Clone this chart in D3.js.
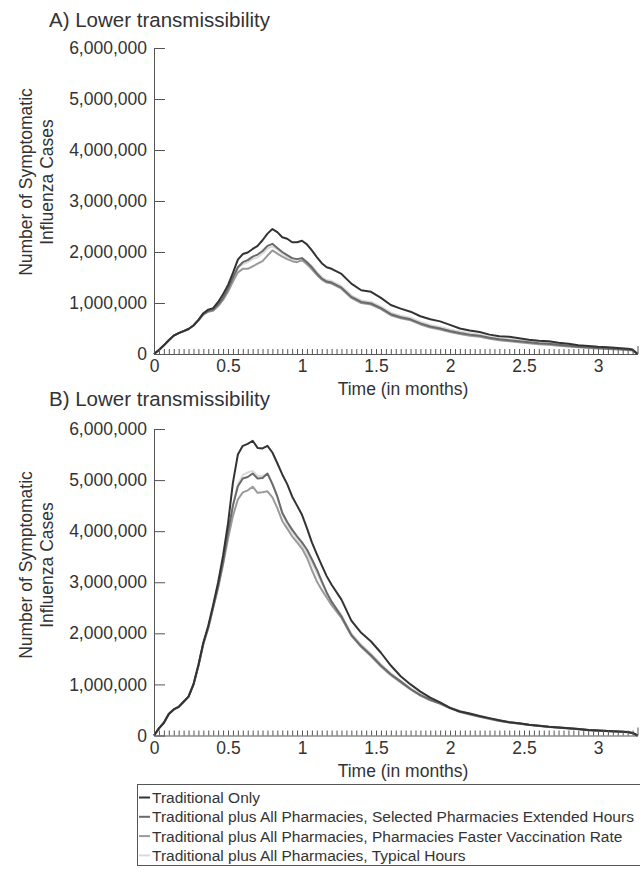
<!DOCTYPE html>
<meta charset="utf-8">
<style>

body {
  margin: 0;
  background: #fff;
}

svg {
  font-family: "Liberation Sans", Arial, sans-serif;
}

.axis path,
.axis line {
  stroke: #555;
  stroke-width: 1px;
}

.axis text {
  fill: #333;
  font-size: 17.5px;
}

.series {
  fill: none;
  stroke-width: 2px;
  stroke-linejoin: round;
}

.title, .label {
  fill: #333;
}

</style>
<svg width="640" height="871"></svg>
<script src="https://d3js.org/d3.v7.min.js"></script>
<script>

// time in days (axis is labelled in months, 30 days each)
var days = [0,1,2,3,4,5,6,7,8,9,10,11,12,13,14,15,16,17,18,19,20,21,22,23,24,25,26,27,28,29,30,31,32,33,34,35,36,
  38,40,42,44,46,48,50,52,54,56,58,60,62,64,66,68,70,72,74,76,78,80,82,84,86,88,90,92,94,96,97,98];

// symptomatic cases, millions - panel A
var aTraditional = [0,0.08,0.17,0.27,0.36,0.41,0.45,0.49,0.56,0.67,0.80,0.87,0.90,1.02,1.17,1.35,1.59,1.85,1.96,1.99,2.06,2.12,2.23,2.36,2.45,2.39,2.29,2.26,2.19,2.19,2.22,2.15,2.03,1.90,1.78,1.70,1.67,
  1.57,1.38,1.25,1.22,1.10,0.96,0.89,0.83,0.74,0.68,0.64,0.57,0.50,0.46,0.43,0.38,0.35,0.34,0.31,0.28,0.26,0.25,0.22,0.20,0.17,0.155,0.14,0.13,0.12,0.105,0.09,0];
var aSelected = [0,0.08,0.17,0.27,0.36,0.41,0.45,0.49,0.56,0.66,0.78,0.84,0.87,0.97,1.10,1.28,1.50,1.70,1.80,1.84,1.91,1.95,2.02,2.12,2.16,2.08,2.00,1.94,1.88,1.86,1.88,1.80,1.70,1.58,1.48,1.42,1.40,
  1.30,1.12,1.02,0.99,0.90,0.78,0.72,0.68,0.60,0.54,0.50,0.45,0.41,0.38,0.36,0.32,0.29,0.27,0.25,0.23,0.21,0.20,0.18,0.16,0.14,0.13,0.12,0.11,0.10,0.09,0.08,0];
var aFaster = [0,0.08,0.17,0.27,0.36,0.41,0.45,0.49,0.56,0.66,0.77,0.83,0.85,0.94,1.06,1.22,1.42,1.60,1.67,1.67,1.72,1.77,1.82,1.93,2.03,1.97,1.91,1.86,1.82,1.80,1.84,1.76,1.66,1.55,1.46,1.40,1.38,
  1.28,1.10,1.00,0.97,0.88,0.76,0.70,0.66,0.58,0.52,0.48,0.43,0.39,0.36,0.34,0.30,0.27,0.25,0.23,0.21,0.19,0.18,0.16,0.145,0.13,0.12,0.11,0.10,0.09,0.08,0.07,0];
var aTypical = [0,0.08,0.17,0.27,0.36,0.41,0.45,0.49,0.56,0.66,0.78,0.84,0.87,0.97,1.10,1.27,1.48,1.68,1.76,1.80,1.86,1.90,1.97,2.07,2.11,2.05,1.97,1.91,1.86,1.85,1.88,1.81,1.72,1.61,1.51,1.45,1.43,
  1.33,1.15,1.05,1.02,0.93,0.81,0.75,0.71,0.63,0.57,0.53,0.48,0.44,0.41,0.38,0.34,0.31,0.29,0.27,0.25,0.23,0.22,0.19,0.17,0.15,0.14,0.13,0.12,0.105,0.095,0.085,0];

// panel B
var bTraditional = [0,0.14,0.25,0.42,0.51,0.56,0.66,0.76,1.00,1.38,1.82,2.15,2.56,3.00,3.52,4.15,4.95,5.50,5.67,5.71,5.77,5.63,5.62,5.67,5.54,5.33,5.11,4.92,4.68,4.50,4.32,4.06,3.78,3.55,3.33,3.12,2.95,
  2.66,2.25,2.01,1.84,1.62,1.37,1.16,1.00,0.86,0.74,0.65,0.54,0.47,0.43,0.38,0.34,0.30,0.26,0.24,0.21,0.19,0.17,0.155,0.14,0.125,0.11,0.10,0.09,0.08,0.07,0.05,0];
var bSelected = [0,0.14,0.25,0.42,0.51,0.56,0.66,0.76,1.00,1.37,1.80,2.12,2.52,2.92,3.40,3.98,4.50,4.88,5.03,5.06,5.13,5.03,5.04,5.13,4.92,4.68,4.36,4.18,4.03,3.90,3.78,3.64,3.45,3.25,3.02,2.80,2.62,
  2.33,1.97,1.75,1.57,1.37,1.20,1.06,0.91,0.79,0.70,0.63,0.54,0.47,0.42,0.37,0.33,0.29,0.26,0.235,0.21,0.19,0.17,0.155,0.14,0.125,0.11,0.10,0.09,0.08,0.07,0.05,0];
var bFaster = [0,0.14,0.25,0.42,0.51,0.56,0.66,0.76,1.00,1.36,1.79,2.10,2.50,2.90,3.35,3.85,4.30,4.62,4.76,4.80,4.87,4.75,4.76,4.78,4.66,4.45,4.20,4.05,3.90,3.78,3.66,3.48,3.24,3.02,2.85,2.70,2.55,
  2.30,1.95,1.73,1.55,1.35,1.18,1.04,0.90,0.78,0.69,0.62,0.53,0.46,0.41,0.365,0.325,0.285,0.255,0.23,0.205,0.185,0.165,0.15,0.135,0.12,0.105,0.095,0.085,0.075,0.065,0.045,0];
var bTypical = [0,0.14,0.25,0.42,0.51,0.56,0.66,0.76,0.99,1.35,1.78,2.10,2.50,2.88,3.35,3.95,4.52,4.92,5.10,5.15,5.18,5.08,5.08,5.12,4.94,4.66,4.34,4.14,3.98,3.85,3.72,3.57,3.38,3.18,2.98,2.78,2.61,
  2.36,2.00,1.78,1.60,1.40,1.22,1.07,0.93,0.81,0.71,0.63,0.55,0.48,0.43,0.38,0.34,0.30,0.27,0.24,0.215,0.195,0.175,0.16,0.145,0.13,0.115,0.10,0.09,0.08,0.07,0.05,0];

var seriesNames = [
  "Traditional Only",
  "Traditional plus All Pharmacies, Selected Pharmacies Extended Hours",
  "Traditional plus All Pharmacies, Pharmacies Faster Vaccination Rate",
  "Traditional plus All Pharmacies, Typical Hours"
];
var seriesColors = ["#333333", "#6a6a6a", "#9a9a9a", "#dadada"];

var yTicks = [0, 1, 2, 3, 4, 5, 6];       // millions
var dayTicks = d3.range(0, 99);           // one tick per day
var yTitle = ["Number of Symptomatic", "Influenza Cases"];
var xTitle = "Time (in months)";

var svg = d3.select("svg");

var x = d3.scaleLinear().domain([0, 98]).range([154, 637.5]);

var panels = [
  { title: "A) Lower transmissibility", top: 48, bottom: 354, titleY: 27, yMid: 182,
    data: [aTraditional, aSelected, aFaster, aTypical] },
  { title: "B) Lower transmissibility", top: 429, bottom: 735.5, titleY: 406, yMid: 565,
    data: [bTraditional, bSelected, bFaster, bTypical] }
];

var fmt = d3.format(",");

panels.forEach(function(p) {
  var y = d3.scaleLinear().domain([0, 6]).range([p.bottom, p.top]);

  svg.append("text")
      .attr("class", "title")
      .attr("x", 49)
      .attr("y", p.titleY)
      .style("font-size", "20.5px")
      .text(p.title);

  // lines, lightest first so the dark one sits on top
  var line = d3.line()
      .x(function(d, i) { return x(days[i]); })
      .y(function(d) { return y(d); });

  for (var k = p.data.length - 1; k >= 0; k--) {
    svg.append("path")
        .attr("class", "series")
        .attr("stroke", seriesColors[k])
        .attr("d", line(p.data[k]));
  }

  svg.append("g")
      .attr("class", "axis")
      .attr("transform", "translate(154,0)")
      .call(d3.axisLeft(y)
          .tickValues(yTicks)
          .tickSizeInner(-11)
          .tickSizeOuter(0)
          .tickPadding(7)
          .tickFormat(function(d) { return fmt(d * 1e6); }));

  var xAxis = svg.append("g")
      .attr("class", "axis")
      .attr("transform", "translate(0," + p.bottom + ")")
      .call(d3.axisBottom(x)
          .tickValues(dayTicks)
          .tickSizeInner(-5)
          .tickSizeOuter(0)
          .tickPadding(6)
          .tickFormat(function(d) { return d % 15 === 0 ? d / 30 : ""; }));

  xAxis.selectAll(".tick line")
      .filter(function(d) { return d === 98; })
      .attr("y2", -8);

  svg.append("text")
      .attr("class", "label")
      .attr("x", 403)
      .attr("y", p.bottom + 41)
      .attr("text-anchor", "middle")
      .style("font-size", "17.5px")
      .text(xTitle);

  yTitle.forEach(function(t, i) {
    svg.append("text")
        .attr("class", "label")
        .attr("transform", "translate(" + (32 + i * 21) + "," + p.yMid + ") rotate(-90)")
        .attr("text-anchor", "middle")
        .style("font-size", "17.5px")
        .text(t);
  });
});

// legend
var legend = svg.append("g");

legend.append("rect")
    .attr("x", 137.5)
    .attr("y", 784.5)
    .attr("width", 520)
    .attr("height", 81)
    .attr("fill", "none")
    .attr("stroke", "#555");

var row = legend.selectAll(".row")
    .data(seriesNames)
  .enter().append("g")
    .attr("class", "row")
    .attr("transform", function(d, i) { return "translate(0," + (803 + i * 19.3) + ")"; });

row.append("line")
    .attr("x1", 139)
    .attr("x2", 150)
    .attr("y1", -5.5)
    .attr("y2", -5.5)
    .attr("stroke-width", 2)
    .attr("stroke", function(d, i) { return seriesColors[i]; });

row.append("text")
    .attr("x", 152)
    .attr("fill", "#333")
    .style("font-size", "15.5px")
    .text(function(d) { return d; });

</script>
